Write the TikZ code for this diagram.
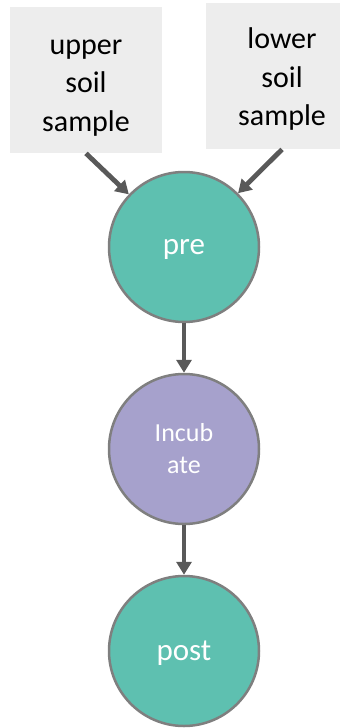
\documentclass[tikz,border=0pt]{standalone}
\usepackage{fontspec}
\setmainfont{Carlito}
\usetikzlibrary{arrows.meta,positioning}
\definecolor{sampleGray}{HTML}{EDEDED}
\definecolor{stageTeal}{HTML}{5EC0B0}
\definecolor{stagePurple}{HTML}{A6A1CC}
\definecolor{rimGray}{HTML}{7F7F7F}
\definecolor{flowGray}{HTML}{595959}
\tikzset{
    sampleBox/.style={rectangle, fill=sampleGray, minimum width=76pt, minimum height=73pt, inner sep=0pt},
    sampleText/.style={align=center, inner sep=0pt, font=\fontsize{15}{19.2}\selectfont},
    stageTeal/.style={circle, draw=rimGray, line width=1.25pt, fill=stageTeal, minimum size=75pt, inner sep=0pt, text depth=0pt, text=white, font=\fontsize{15.5}{19}\selectfont},
    stagePurple/.style={circle, draw=rimGray, line width=1.25pt, fill=stagePurple, minimum size=75pt, inner sep=0pt, align=center, text=white, font=\fontsize{13}{16}\selectfont},
    flow/.style={-{Triangle[width=7.5pt,length=6.5pt]}, line width=2.4pt, draw=flowGray}
}

\begin{document}
\begin{tikzpicture}[x=0.5pt,y=-0.5pt]

\clip (0,0) rectangle (340,728);
\useasboundingbox (0,0) rectangle (340,728);

% samples
\node[sampleBox] (upper) at (86,80) {};
\node[sampleBox] (lower) at (282,76) {};
\node[sampleText] (upperText) at (86,88) {upper\\soil\\sample};
\node[sampleText] (lowerText) at (282,79) {lower\\soil\\sample};

% stages
\node[stageTeal] (pre) at (184,247) {pre};
\node[stagePurple] (incub) at (184,449) {Incub\\ate};
\node[stageTeal] (post) at (184,651) {post};

% Draw arrows
\draw[flow] (upper.south) -- (pre);
\draw[flow] (lower.south) -- (pre);
\draw[flow] (pre) -- (incub);
\draw[flow] (incub) -- (post);

\end{tikzpicture}
\end{document}
